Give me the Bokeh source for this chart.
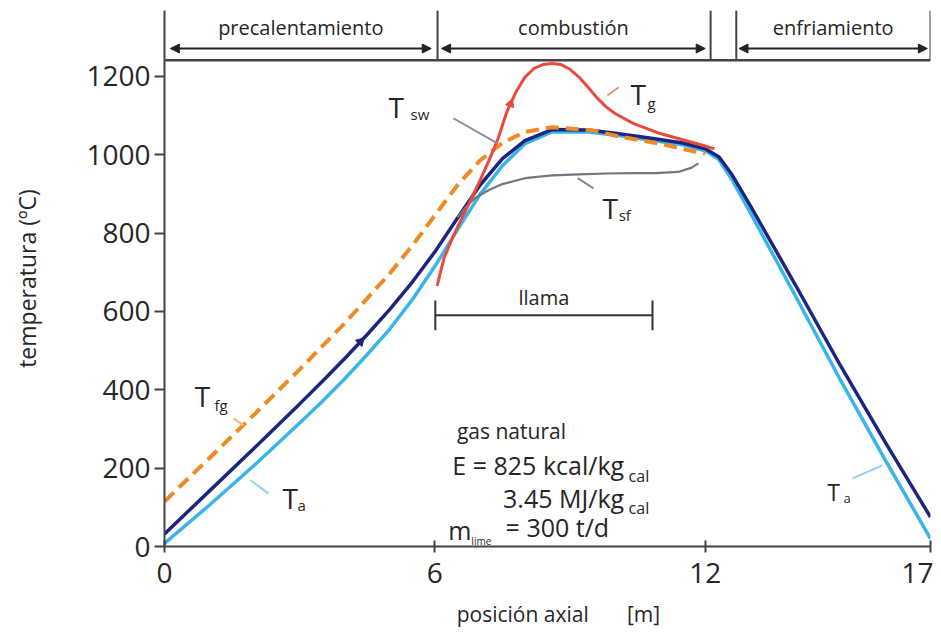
from bokeh.plotting import figure
from bokeh.models import FixedTicker, Arrow, NormalHead
from bokeh.core.properties import value
from bokeh.embed import file_html
from bokeh.resources import INLINE

# ---------------- data ----------------
x_sw = [0, 1, 2, 3, 3.5, 4, 4.5, 5, 5.5, 6, 6.5, 7, 7.5, 8, 8.6, 9.4, 10, 10.8, 11.5, 12, 12.3, 12.6, 13, 14, 15, 16, 17]
T_sw = [32, 142, 252, 364, 421, 480, 541, 605, 675, 752, 838, 922, 990, 1036, 1064, 1063, 1055, 1042, 1030, 1015, 995, 948, 870, 668, 462, 265, 75]

x_a = [0, 1, 2, 3, 3.5, 4, 4.5, 5, 5.5, 6, 6.5, 7, 7.5, 8, 8.6, 9.4, 10, 10.8, 11.5, 12, 12.3, 12.6, 13, 14, 15, 16, 17]
T_a = [8, 106, 208, 315, 370, 428, 490, 555, 630, 715, 808, 898, 972, 1028, 1058, 1058, 1050, 1037, 1025, 1010, 988, 935, 852, 640, 425, 220, 20]

x_fg = [0, 1, 2, 3, 4, 5, 5.5, 6, 6.5, 7, 7.5, 8, 8.6, 9.5, 10.1, 11, 11.6, 12]
T_fg = [115, 226, 338, 452, 570, 697, 768, 845, 922, 985, 1030, 1058, 1070, 1062, 1046, 1028, 1012, 1003]

x_g = [6.05, 6.2, 6.4, 6.6, 6.8, 7.0, 7.2, 7.4, 7.6, 7.8, 8.0, 8.2, 8.4, 8.6, 8.8, 9.0, 9.2, 9.4, 9.6, 9.8, 10.0, 10.4, 11.0, 11.5, 12.0, 12.2]
T_g = [665, 735, 790, 838, 885, 934, 985, 1040, 1110, 1160, 1198, 1220, 1230, 1233, 1230, 1218, 1198, 1172, 1145, 1122, 1105, 1080, 1054, 1038, 1022, 1015]

x_sf = [6.5, 6.7, 6.9, 7.2, 7.5, 8, 8.6, 9.2, 9.8, 10.4, 10.9, 11.4, 11.7, 11.85]
T_sf = [840, 868, 890, 910, 925, 940, 947, 950, 952, 953, 953, 956, 967, 978]

y_ticks = [0, 200, 400, 600, 800, 1000, 1200]
x_ticks = [0, 6, 12, 17]

zone_names = ["precalentamiento", "combustión", "enfriamiento"]
zone_start = [0.13, 6.15, 12.75]
zone_end = [5.92, 12.0, 16.93]
zone_bounds = [6.06, 12.12, 12.69, 17]

flame_start = 6.01
flame_end = 10.83

# ---------------- figure ----------------
X_MAX = 17
Y_TOP = 1368
HEADER_Y = 1241

p = figure(width=933, height=638, x_range=(0, X_MAX), y_range=(0, Y_TOP),
           output_backend="svg", toolbar_location=None,
           min_border_left=164, min_border_right=3, min_border_top=10, min_border_bottom=92)
p.grid.visible = False
p.outline_line_color = None
p.background_fill_color = "white"

FONT = "Open Sans"
AX = "#444444"
TXT = "#262626"

p.yaxis.ticker = FixedTicker(ticks=y_ticks)
p.xaxis.ticker = FixedTicker(ticks=x_ticks)
for ax in (p.xaxis, p.yaxis):
    ax.axis_line_color = AX
    ax.axis_line_width = 2
    ax.major_tick_line_color = AX
    ax.major_tick_line_width = 2
    ax.minor_tick_line_color = None
    ax.major_label_text_font = FONT
    ax.major_label_text_font_size = "28px"
    ax.major_label_text_color = TXT
    ax.axis_label_text_font = FONT
    ax.axis_label_text_font_style = "normal"
    ax.axis_label_text_color = TXT

p.yaxis.major_tick_out = 10
p.yaxis.major_tick_in = 0
p.yaxis.major_label_standoff = 4
p.yaxis.axis_label = "temperatura (ºC)"
p.yaxis.axis_label_text_font_size = "23px"
p.yaxis.axis_label_standoff = 40

p.xaxis.major_tick_out = 6
p.xaxis.major_tick_in = 6
p.xaxis.major_label_standoff = 10
p.xaxis.axis_label = "\u00a0" * 4 + "posición axial" + "\u00a0" * 7 + "[m]"
p.xaxis.axis_label_text_font_size = "21px"
p.xaxis.axis_label_standoff = 14

# ---------------- header ----------------
p.segment(x0=[0], y0=[HEADER_Y], x1=[X_MAX], y1=[HEADER_Y], line_color=AX, line_width=2.5)
p.segment(x0=zone_bounds, y0=[HEADER_Y] * len(zone_bounds), x1=zone_bounds, y1=[Y_TOP] * len(zone_bounds),
          line_color=AX, line_width=2)
ARROW_Y = 1271
for s, e in zip(zone_start, zone_end):
    p.add_layout(Arrow(x_start=s, y_start=ARROW_Y, x_end=e, y_end=ARROW_Y,
                       line_color="#222222", line_width=2,
                       start=NormalHead(size=9, fill_color="#222222", line_color="#222222"),
                       end=NormalHead(size=9, fill_color="#222222", line_color="#222222")))
p.text(x=[(s + e) / 2 for s, e in zip(zone_start, zone_end)], y=[1325] * 3, text=zone_names,
       text_font=value(FONT), text_font_size="20px", text_color=TXT,
       text_align="center", text_baseline="middle")

# ---------------- curves ----------------
p.line(x_a, T_a, line_color="#39b5ea", line_width=3.5)
p.line(x_sw, T_sw, line_color="#1c2580", line_width=3.5)
p.line(x_sf, T_sf, line_color="#76767e", line_width=2.2)
p.line(x_fg, T_fg, line_color="#f08a24", line_width=4, line_dash="13 7")
p.line(x_g, T_g, line_color="#ea4a3c", line_width=3)

# small flow arrowheads on curves
p.scatter(x=[4.35], y=[523], marker="triangle", size=9, angle=-0.77,
          fill_color="#1c2580", line_color="#1c2580")
p.scatter(x=[7.68], y=[1130], marker="triangle", size=9, angle=-0.33,
          fill_color="#ea4a3c", line_color="#ea4a3c")

# ---------------- labels ----------------
ptr_x0 = [6.41, 9.83, 9.17, 1.53, 1.91, 15.27]
ptr_y0 = [1093, 1151, 940, 327, 169, 174]
ptr_x1 = [7.39, 10.08, 9.52, 1.75, 2.31, 15.93]
ptr_y1 = [1029, 1172, 914, 309, 135, 207]
ptr_col = ["#8a8aa8", "#f08a80", "#8a8a8a", "#f6b888", "#8fd3f0", "#8fd3f0"]
p.segment(x0=ptr_x0, y0=ptr_y0, x1=ptr_x1, y1=ptr_y1, line_color=ptr_col, line_width=2)

T_lab_x = [4.97, 10.34, 9.72, 0.67, 2.62, 14.71]
T_lab_y = [1121, 1154, 865, 385, 125, 138]
T_lab_size = ["28px", "28px", "28px", "28px", "28px", "23px"]
sub_text = ["sw", "g", "sf", "fg", "a", "a"]
sub_x = [5.46, 10.72, 10.08, 1.11, 2.95, 15.07]
sub_y = [1105, 1131, 845, 362, 107, 125]
sub_size = ["15px", "15px", "15px", "15px", "15px", "13px"]
p.text(x=T_lab_x, y=T_lab_y, text=["T"] * 6, text_font=value(FONT), text_font_size=T_lab_size,
       text_color=TXT, text_align="left", text_baseline="middle")
p.text(x=sub_x, y=sub_y, text=sub_text, text_font=value(FONT), text_font_size=sub_size,
       text_color=TXT, text_align="left", text_baseline="middle")

# flame bar
p.segment(x0=[flame_start], y0=[590], x1=[flame_end], y1=[590], line_color="#333333", line_width=2)
p.segment(x0=[flame_start, flame_end], y0=[552, 552], x1=[flame_start, flame_end], y1=[628, 628],
          line_color="#333333", line_width=2)
p.text(x=[(flame_start + flame_end) / 2], y=[636], text=["llama"], text_font=value(FONT),
       text_font_size="20px", text_color=TXT, text_align="center", text_baseline="middle")

# info block
info_text = ["gas natural", "E = 825 kcal/kg", "3.45 MJ/kg", "m", "= 300 t/d"]
info_x = [7.70, 10.20, 10.20, 6.30, 7.57]
info_y = [294, 209, 125, 41, 51]
info_align = ["center", "right", "right", "left", "left"]
info_size = ["21px", "25px", "25px", "25px", "25px"]
p.text(x=info_x, y=info_y, text=info_text, text_font=value(FONT), text_font_size=info_size,
       text_color=TXT, text_align=info_align, text_baseline="middle")
p.text(x=[10.30, 10.30, 6.81], y=[179, 97, 15], text=["cal", "cal", "lime"], text_font=value(FONT),
       text_font_size=["16px", "16px", "10px"], text_color=TXT, text_align="left", text_baseline="middle")

open("out.html", "w").write(file_html(p, INLINE))
